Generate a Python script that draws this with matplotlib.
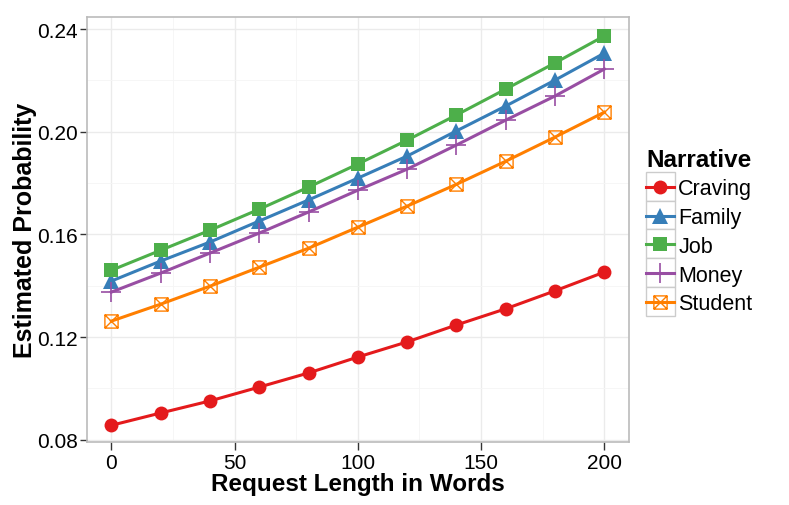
import matplotlib
matplotlib.use("Agg")
import matplotlib.pyplot as plt
from matplotlib.path import Path
from matplotlib.patches import Rectangle
from matplotlib.ticker import MultipleLocator, FixedLocator

plt.rcParams['font.family'] = ['Liberation Sans', 'DejaVu Sans']

words = [0, 20, 40, 60, 80, 100, 120, 140, 160, 180, 200]
craving = [0.0856, 0.0904, 0.0951, 0.1005, 0.1060, 0.1122, 0.1181, 0.1247, 0.1310, 0.1380, 0.1453]
family = [0.1418, 0.1496, 0.1570, 0.1652, 0.1734, 0.1819, 0.1905, 0.2003, 0.2100, 0.2201, 0.2306]
job = [0.1460, 0.1538, 0.1616, 0.1698, 0.1784, 0.1874, 0.1967, 0.2065, 0.2166, 0.2268, 0.2373]
money = [0.1375, 0.1449, 0.1527, 0.1605, 0.1687, 0.1772, 0.1854, 0.1948, 0.2045, 0.2139, 0.2244]
student = [0.1262, 0.1328, 0.1398, 0.1472, 0.1546, 0.1628, 0.1710, 0.1795, 0.1885, 0.1979, 0.2076]

names = ['Craving', 'Family', 'Job', 'Money', 'Student']
series = [craving, family, job, money, student]
colors = ['#E41A1C', '#377EB8', '#4DAF4A', '#984EA3', '#FF7F00']

xticks = [0, 50, 100, 150, 200]
yticks = [0.08, 0.12, 0.16, 0.20, 0.24]

# boxed-x marker (square with both diagonals)
boxx = Path([(-1, -1), (1, -1), (1, 1), (-1, 1), (-1, -1), (-1, -1), (1, 1), (-1, 1), (1, -1)],
            [Path.MOVETO, Path.LINETO, Path.LINETO, Path.LINETO, Path.CLOSEPOLY,
             Path.MOVETO, Path.LINETO, Path.MOVETO, Path.LINETO])

marker_specs = [
    dict(marker='o', markersize=10, markeredgewidth=0),
    dict(marker='^', markersize=11.5, markeredgewidth=0),
    dict(marker='s', markersize=9.5, markeredgewidth=0),
    dict(marker='+', markersize=15, markeredgewidth=1.2),
    dict(marker=boxx, markersize=9.5, markeredgewidth=1.0, markerfacecolor='none'),
]

fig = plt.figure(figsize=(7.89, 5.06), dpi=100)
ax = fig.add_axes([86.7 / 789, 1 - 443 / 506, (629 - 86.7) / 789, (443 - 17.7) / 506])

handles = []
for name, vals, col, ms in zip(names, series, colors, marker_specs):
    kw = dict(ms)
    kw.setdefault('markerfacecolor', col)
    h, = ax.plot(words, vals, color=col, linewidth=2.2, markeredgecolor=col,
                 label=name, zorder=3, **kw)
    handles.append(h)

ax.set_xlim(-10, 210)
ax.set_ylim(0.0791, 0.2448)
ax.xaxis.set_major_locator(FixedLocator(xticks))
ax.yaxis.set_major_locator(FixedLocator(yticks))
ax.xaxis.set_minor_locator(MultipleLocator(25))
ax.yaxis.set_minor_locator(MultipleLocator(0.02))
ax.set_yticklabels([f'{v:.2f}' for v in yticks])
ax.set_xticklabels([str(v) for v in xticks])
ax.grid(True, which='major', color='#EBEBEB', linewidth=1.0, zorder=0)
ax.grid(True, which='minor', color='#F5F5F5', linewidth=0.6, zorder=0)
ax.set_axisbelow(True)
ax.tick_params(which='major', direction='out', length=5, width=1, color='#333333',
               labelsize=15, pad=1.5)
ax.tick_params(axis='x', which='major', length=6, pad=2)
ax.tick_params(which='minor', length=0)
for s in ax.spines.values():
    s.set_color('#BBBBBB')
    s.set_linewidth(1.2)

ax.set_xlabel('Request Length in Words', fontsize=17.5, fontweight='bold', labelpad=0)
ax.set_ylabel('Estimated Probability', fontsize=18, fontweight='bold', labelpad=0)

leg = fig.legend(handles=handles, loc='upper left', bbox_to_anchor=(631 / 789, 1 - 133.5 / 506),
                 frameon=False, title='Narrative', fontsize=15.5,
                 title_fontproperties={'weight': 'bold', 'size': 17.5},
                 handlelength=1.3, handletextpad=0.2, labelspacing=0.36,
                 alignment='left', borderpad=0.2)

# legend key boxes
for i in range(5):
    top = 173 + i * 28.7
    fig.add_artist(Rectangle((646 / 789, 1 - (top + 28.7) / 506), 29 / 789, 28.7 / 506,
                             transform=fig.transFigure, facecolor='white',
                             edgecolor='#CCCCCC', linewidth=1.0, zorder=0))

fig.savefig('out.png', dpi=100)
